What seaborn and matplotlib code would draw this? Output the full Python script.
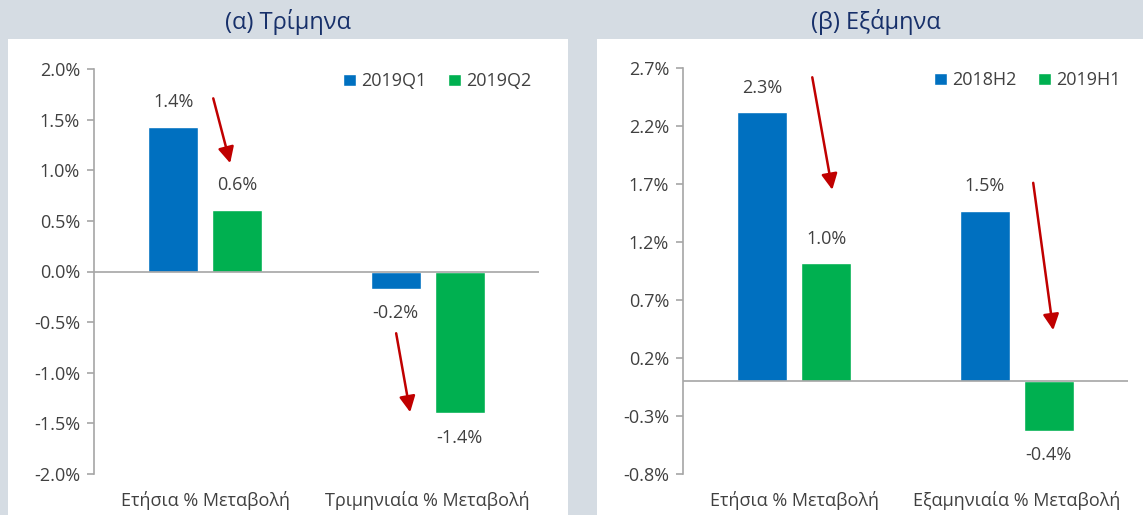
import numpy as np
import pandas as pd
import seaborn as sns
import matplotlib.pyplot as plt
from matplotlib.patches import Rectangle

# data
q_categories = ["Ετήσια % Μεταβολή", "Τριμηνιαία % Μεταβολή"]
q_periods = ["2019Q1", "2019Q2"]
q_first = [1.43, -0.17]
q_second = [0.61, -1.40]
q_ticks = [-2.0, -1.5, -1.0, -0.5, 0.0, 0.5, 1.0, 1.5, 2.0]

h_categories = ["Ετήσια % Μεταβολή", "Εξαμηνιαία % Μεταβολή"]
h_periods = ["2018H2", "2019H1"]
h_first = [2.32, 1.47]
h_second = [1.02, -0.43]
h_ticks = [-0.8, -0.3, 0.2, 0.7, 1.2, 1.7, 2.2, 2.7]

titles = ["(α) Τρίμηνα", "(β) Εξάμηνα"]

BLUE = "#0070c0"
GREEN = "#00b050"
BG = "#d5dce3"
TXT = "#404040"
ARROW = "#c00000"

sns.set_theme(style="white")
plt.rcParams["font.family"] = ["Open Sans", "DejaVu Sans"]

W, H = 1143, 515
fig = plt.figure(figsize=(W / 100, H / 100), dpi=100, facecolor=BG)

# white panel boxes
for x0, x1 in [(8, 568), (597, 1143)]:
    fig.patches.append(Rectangle((x0 / W, 0), (x1 - x0) / W, 1 - 39 / H,
                                 transform=fig.transFigure, facecolor="white",
                                 edgecolor="none", zorder=-5))
fig.text(288 / W, 1 - 22 / H, titles[0], ha="center", va="center",
         fontsize=17, color="#17306a")
fig.text(876 / W, 1 - 22 / H, titles[1], ha="center", va="center",
         fontsize=17, color="#17306a")


def panel(rect, cats, periods, first, second, ticks, arrows):
    df = pd.DataFrame({
        "cat": cats * 2,
        "period": [periods[0]] * 2 + [periods[1]] * 2,
        "value": first + second,
    })
    ax = fig.add_axes(rect)
    ax.set_facecolor("none")
    sns.barplot(data=df, x="cat", y="value", hue="period",
                palette=[BLUE, GREEN], width=0.575, gap=0.22,
                saturation=1, ax=ax, errorbar=None)
    for c in ax.containers:
        ax.bar_label(c, fmt="%.1f%%", padding=11, fontsize=13, color=TXT)
    ax.set_xlim(-0.5, 1.5)
    ax.set_ylim(ticks[0], ticks[-1])
    ax.set_yticks(ticks)
    ax.set_yticklabels([f"{t:.1f}%" for t in ticks], fontsize=13, color=TXT)
    ax.axhline(0, color="#a6a6a6", lw=1.2)
    for s in ["top", "right", "bottom"]:
        ax.spines[s].set_visible(False)
    ax.spines["left"].set_color("#a6a6a6")
    ax.spines["left"].set_linewidth(1.2)
    ax.tick_params(axis="y", left=True, length=5, width=1.2,
                   color="#a6a6a6", pad=5)
    ax.tick_params(axis="x", length=0, pad=12, labelsize=13, labelcolor=TXT)
    ax.set_xlabel("")
    ax.set_ylabel("")
    sns.move_legend(ax, "upper right", bbox_to_anchor=(1.0, 1.01), ncol=2,
                    frameon=False, title=None, fontsize=13, borderaxespad=0,
                    handlelength=0.7, handleheight=0.7, handletextpad=0.3,
                    columnspacing=1.2)
    for t in ax.get_legend().get_texts():
        t.set_color(TXT)
    for (x0, y0), (x1, y1) in arrows:
        ax.annotate("", xy=(x1, y1), xytext=(x0, y0),
                    arrowprops=dict(arrowstyle="-|>,head_length=0.8,head_width=0.4",
                                    color=ARROW, lw=1.8, shrinkA=0, shrinkB=0))
    return ax


panel([94 / W, 1 - 474 / H, 445 / W, 405 / H], q_categories, q_periods,
      q_first, q_second, q_ticks,
      [((0.036, 1.71), (0.112, 1.07)), ((0.858, -0.61), (0.921, -1.39))])
panel([683 / W, 1 - 474 / H, 445 / W, 406 / H], h_categories, h_periods,
      h_first, h_second, h_ticks,
      [((0.081, 2.62), (0.171, 1.65)), ((1.074, 1.71), (1.164, 0.44))])

fig.savefig("out.png", dpi=100, facecolor=BG)
